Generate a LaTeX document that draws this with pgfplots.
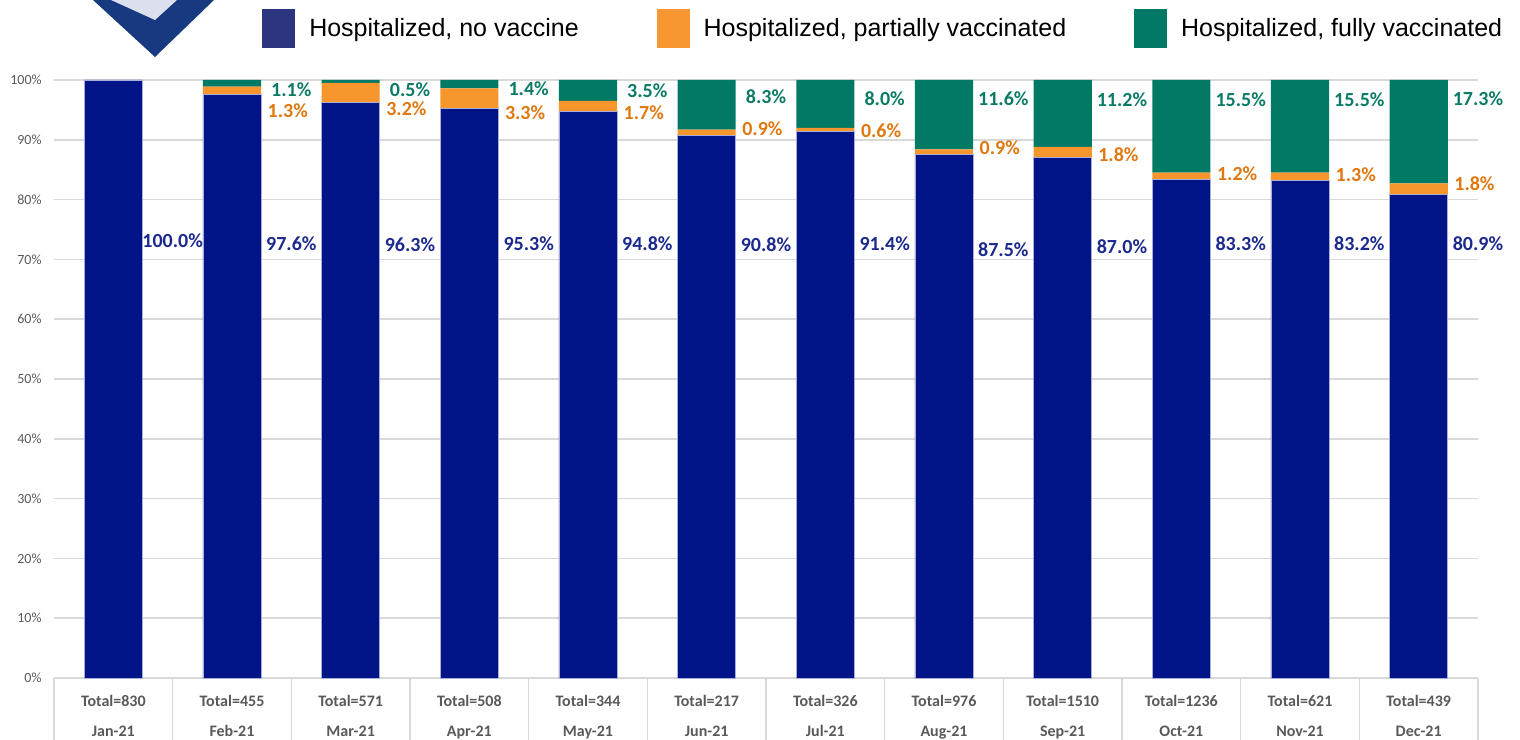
\documentclass[border=0pt]{standalone}
\usepackage{fontspec}
\setmainfont{Carlito}
\newfontfamily\legfont{Liberation Sans}
\usepackage{pgfplots}
\usepackage{pgfplotstable}
\pgfplotsset{compat=1.18}

\definecolor{barblue}{HTML}{001487}
\definecolor{baredge}{HTML}{A9AED6}
\definecolor{barorange}{HTML}{F7962D}
\definecolor{bargreen}{HTML}{007A64}
\definecolor{legblue}{HTML}{2E3580}
\definecolor{legorange}{HTML}{F89631}
\definecolor{leggreen}{HTML}{007A66}
\definecolor{lblblue}{HTML}{1B2A8C}
\definecolor{lblorange}{HTML}{E07810}
\definecolor{lblgreen}{HTML}{0B7B66}
\definecolor{ticktext}{HTML}{595959}
\definecolor{gridgray}{HTML}{D9D9D9}
\definecolor{logoblue}{HTML}{17397F}
\definecolor{logolight}{HTML}{DCE0EE}

% share of hospitalized patients by vaccination status (percent)
\pgfplotstableread{
x no part full
0 100.0 0.0 0.0
1 97.6 1.3 1.1
2 96.3 3.2 0.5
3 95.3 3.3 1.4
4 94.8 1.7 3.5
5 90.8 0.9 8.3
6 91.4 0.6 8.0
7 87.5 0.9 11.6
8 87.0 1.8 11.2
9 83.3 1.2 15.5
10 83.2 1.3 15.5
11 80.9 1.8 17.3
}\data

% label positions (x, y) and printed value
\pgfplotstableread{
x y v
0.5 73.1 100.0
1.5 72.6 97.6
2.5 72.4 96.3
3.5 72.7 95.3
4.5 72.7 94.8
5.5 72.4 90.8
6.5 72.6 91.4
7.5 71.7 87.5
8.5 72.2 87.0
9.5 72.7 83.3
10.5 72.7 83.2
11.5 72.6 80.9
}\lblno
\pgfplotstableread{
x y v
1.47 94.8 1.3
2.47 95.2 3.2
3.47 94.5 3.3
4.47 94.5 1.7
5.47 91.8 0.9
6.47 91.6 0.6
7.47 88.7 0.9
8.47 87.5 1.8
9.47 84.4 1.2
10.47 84.1 1.3
11.47 82.6 1.8
}\lblpart
\pgfplotstableread{
x y v
1.5 98.4 1.1
2.5 98.4 0.5
3.5 98.5 1.4
4.5 98.2 3.5
5.5 97.2 8.3
6.5 96.9 8.0
7.5 96.9 11.6
8.5 96.7 11.2
9.5 96.7 15.5
10.5 96.7 15.5
11.5 96.8 17.3
}\lblfull

\begin{document}
\begin{tikzpicture}
\path[use as bounding box] (0,0) rectangle (760pt,369.5pt);

% logo fragment top left
\begin{scope}[x=0.5pt,y=-0.5pt,shift={(0pt,369.5pt)}]
  \fill[logoblue] (93,0) -- (155,57) -- (214,0) -- cycle;
  \fill[logolight] (111,0) -- (155,20) -- (177,0) -- cycle;
\end{scope}

\begin{axis}[
  at={(27pt,30.5pt)}, anchor=south west,
  scale only axis, width=712pt, height=299pt,
  xmin=-0.5, xmax=11.5, ymin=0, ymax=100,
  ybar stacked, bar width=0.49,
  axis line style={draw=none},
  tick pos=left,
  xtick={0,...,11},
  xticklabels={{Total=830\\Jan-21},{Total=455\\Feb-21},{Total=571\\Mar-21},
    {Total=508\\Apr-21},{Total=344\\May-21},{Total=217\\Jun-21},
    {Total=326\\Jul-21},{Total=976\\Aug-21},{Total=1510\\Sep-21},
    {Total=1236\\Oct-21},{Total=621\\Nov-21},{Total=439\\Dec-21}},
  xticklabel style={anchor=north, align=center, inner sep=0pt, yshift=-8.5pt,
    font=\bfseries\fontsize{8}{15}\selectfont, text=ticktext},
  xtick style={draw=none},
  extra x ticks={-0.5,0.5,...,11.5},
  extra x tick labels={},
  extra x tick style={major tick length=32pt, tick align=outside,
    xtick style={draw=gridgray, line width=0.75pt}},
  ytick={0,10,...,100},
  yticklabels={0\%,10\%,20\%,30\%,40\%,50\%,60\%,70\%,80\%,90\%,100\%},
  yticklabel style={anchor=east, inner sep=0pt, xshift=-6pt,
    font=\fontsize{7}{8}\selectfont, text=ticktext},
  ytick style={draw=none},
  ymajorgrids, grid style={draw=gridgray, line width=0.75pt},
  legend columns=3,
  legend style={at={(0.1461,1.0861)}, anchor=west, draw=none, fill=none,
    inner sep=0pt, font=\legfont\fontsize{12.5}{15}\selectfont,
    cells={anchor=west, inner sep=0pt},
    /tikz/every odd column/.append style={column sep=5pt},
    /tikz/column 2/.style={column sep=37pt},
    /tikz/column 4/.style={column sep=32pt}},
]
\addplot[fill=barblue, draw=baredge, line width=0.4pt, forget plot] table[x=x,y=no]{\data};
\addplot[fill=barorange, draw=none, forget plot] table[x=x,y=part]{\data};
\addplot[fill=bargreen, draw=none, forget plot] table[x=x,y=full]{\data};

\addlegendimage{legend image code/.code={\fill[legblue] (0pt,-9.5pt) rectangle (16pt,9.5pt);}}
\addlegendentry{Hospitalized, no vaccine}
\addlegendimage{legend image code/.code={\fill[legorange] (0pt,-9.5pt) rectangle (16pt,9.5pt);}}
\addlegendentry{Hospitalized, partially vaccinated}
\addlegendimage{legend image code/.code={\fill[leggreen] (0pt,-9.5pt) rectangle (16pt,9.5pt);}}
\addlegendentry{Hospitalized, fully vaccinated}
\end{axis}

% value labels beside the bars
\begin{axis}[
  at={(27pt,30.5pt)}, anchor=south west,
  scale only axis, width=712pt, height=299pt,
  xmin=-0.5, xmax=11.5, ymin=0, ymax=100,
  hide axis, clip=false,
  point meta=explicit,
  nodes near coords={\pgfmathprintnumber[fixed,fixed zerofill,precision=1,assume math mode=true]{\pgfplotspointmeta}\%},
  every node near coord/.append style={anchor=center, inner sep=0pt,
    font=\bfseries\fontsize{10}{12}\selectfont},
]
\addplot[only marks, mark=*, mark size=0pt, mark options={draw=none,fill=none},
  nodes near coords style={text=lblblue}] table[x=x,y=y,meta=v]{\lblno};
\addplot[only marks, mark=*, mark size=0pt, mark options={draw=none,fill=none},
  nodes near coords style={text=lblorange}] table[x=x,y=y,meta=v]{\lblpart};
\addplot[only marks, mark=*, mark size=0pt, mark options={draw=none,fill=none},
  nodes near coords style={text=lblgreen}] table[x=x,y=y,meta=v]{\lblfull};
\end{axis}
\end{tikzpicture}
\end{document}
